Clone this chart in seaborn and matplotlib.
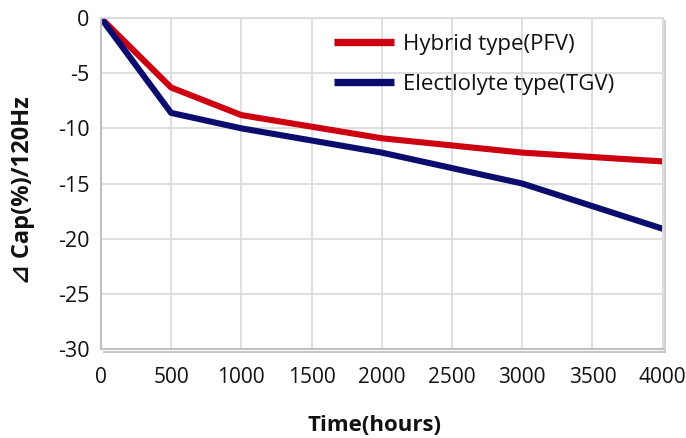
import matplotlib
matplotlib.use("Agg")
import matplotlib.pyplot as plt
import matplotlib.patheffects as pe
import seaborn as sns
import pandas as pd

hours = [0, 500, 1000, 2000, 3000, 4000]
hybrid = [0, -6.3, -8.8, -10.9, -12.2, -13.0]
electrolyte = [0, -8.6, -10.0, -12.2, -15.0, -19.1]
series_names = ["Hybrid type(PFV)", "Electlolyte type(TGV)"]
colors = ["#cc0010", "#0c0c6e"]
x_ticks = [0, 500, 1000, 1500, 2000, 2500, 3000, 3500, 4000]
y_ticks = [0, -5, -10, -15, -20, -25, -30]

df = pd.DataFrame({
    "hours": hours * 2,
    "cap": hybrid + electrolyte,
    "series": [series_names[0]] * len(hours) + [series_names[1]] * len(hours),
})

sns.set_theme(style="white")
plt.rcParams["font.family"] = ["Open Sans", "DejaVu Sans"]
plt.rcParams["text.color"] = "#111111"
plt.rcParams["axes.labelcolor"] = "#111111"

fig = plt.figure(figsize=(6.86, 4.38), dpi=100)
ax = fig.add_axes([0.147, 0.203, 0.819, 0.756])

sns.lineplot(data=df, x="hours", y="cap", hue="series", palette=colors,
             linewidth=4.4, ax=ax, legend=True, solid_capstyle="butt")

ax.set_xlim(0, 4000)
ax.set_ylim(-30, 0)
ax.set_xticks(x_ticks)
ax.set_yticks(y_ticks)
ax.set_xticklabels([str(v) for v in x_ticks], fontsize=15)
ax.set_yticklabels([str(v) for v in y_ticks], fontsize=15.5)
ax.tick_params(axis="x", length=0, pad=13, colors="#111111")
ax.tick_params(axis="y", length=0, pad=8, colors="#111111")
ax.grid(True, color="#d9d9d9", linewidth=1.2)
ax.set_axisbelow(True)

for side in ["top", "right"]:
    ax.spines[side].set_color("#d9d9d9")
    ax.spines[side].set_linewidth(1.2)
for side in ["left", "bottom"]:
    ax.spines[side].set_color("#c0c0c0")
    ax.spines[side].set_linewidth(1.5)
ax.spines["bottom"].set_path_effects([pe.SimpleLineShadow(offset=(2, -2), shadow_color="#bbbbbb", alpha=0.8), pe.Normal()])
ax.spines["right"].set_path_effects([pe.SimpleLineShadow(offset=(2, -2), shadow_color="#bbbbbb", alpha=0.8), pe.Normal()])

ax.set_xlabel("Time(hours)", fontsize=16, fontweight="bold")
ax.xaxis.set_label_coords(0.4875, -0.198)
ax.set_ylabel("⊿ Cap(%)/120Hz", fontsize=17, fontweight="bold")
ax.yaxis.set_label_coords(-0.117, 0.48)

leg = ax.legend(loc="upper right", frameon=False, fontsize=16,
                handlelength=2.7, handletextpad=0.4, labelspacing=0.85,
                bbox_to_anchor=(0.95, 1.012))
for line in leg.get_lines():
    line.set_linewidth(5.3)

fig.savefig("out.png", dpi=100)
